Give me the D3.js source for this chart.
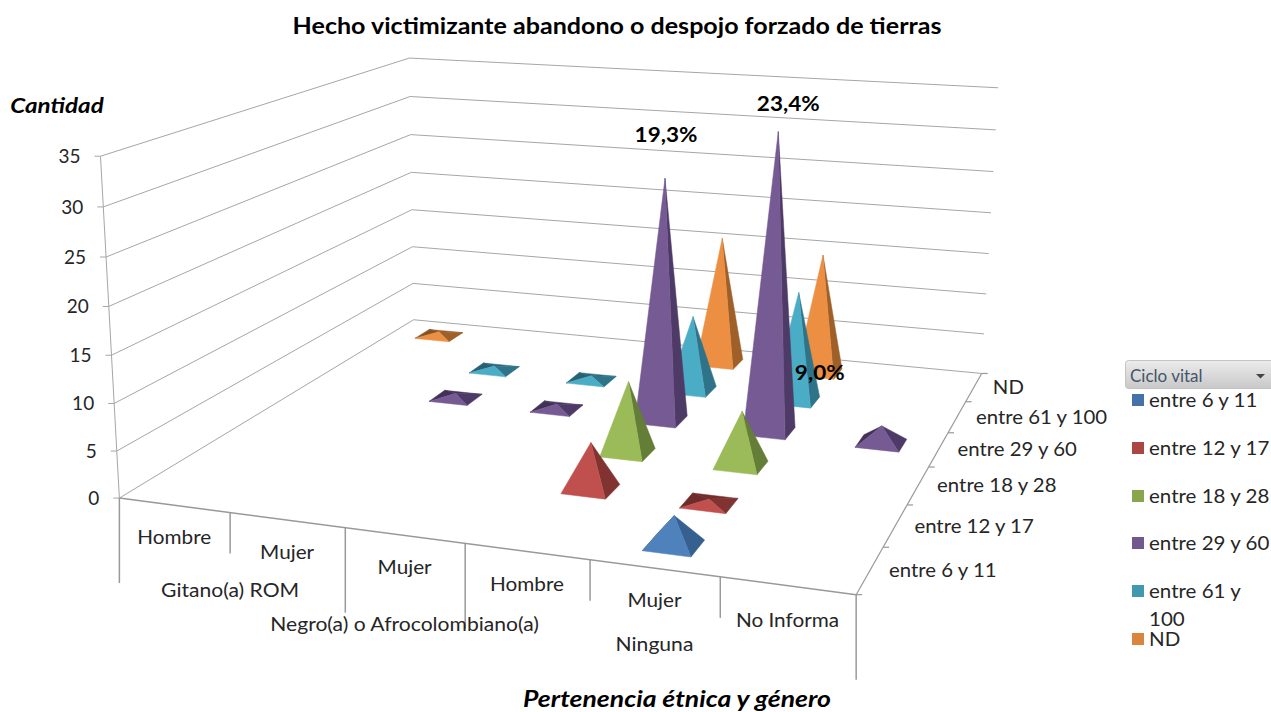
<!DOCTYPE html>
<html><head><meta charset="utf-8">
<script src="https://cdn.jsdelivr.net/npm/d3@7/dist/d3.min.js"></script>
<style>
html,body{margin:0;padding:0;background:#fff}
svg{display:block}
text{font-family:Lato,"Open Sans",sans-serif;fill:#262626}
</style></head><body>
<svg id="c" width="1271" height="712"></svg>
<script>
// ---- data ----
const categories = ["Hombre","Mujer","Mujer ","Hombre ","Mujer  ","No Informa"];
const groups = ["Gitano(a) ROM","Negro(a) o Afrocolombiano(a)","Ninguna"];
const groupSpans = [2,1,3];
const series = ["entre 6 y 11","entre 12 y 17","entre 18 y 28","entre 29 y 60","entre 61 y 100","ND"];
const colors = ["#4F81BD","#C0504D","#9BBB59","#765A94","#4BACC6","#EC8F42"];
const darks  = ["#36608F","#803330","#647D37","#4E3A66","#2E7388","#9E6028"];
const legendColors = ["#4573A7","#AA4643","#89A54E","#71588F","#4198AF","#DB843D"];
const valueTicks = [0,5,10,15,20,25,30,35];
const s6a11   = [0,0,0,0,3,0];
const s12a17  = [0,0,0,5,0.45,0];
const s18a28  = [0,0,0,8,6,0];
const s29a60  = [0,0.55,0.55,27.8,33.7,2];
const s61a100 = [0,0.5,0.5,9,13,0];
const sND     = [0.5,0,0,15.8,14.7,0];
const rows = [s6a11,s12a17,s18a28,s29a60,s61a100,sND];
const dataLabels = [
  {s:3,c:3,text:"19,3%",dx:1,dy:-43},
  {s:3,c:4,text:"23,4%",dx:10,dy:-28},
  {s:4,c:4,text:"9,0%",dx:21,dy:81}
];

// ---- projection fitted to the box corners ----
const calib = [
  [0,0,0,120,498],[1,0,0,856,595],[1,1,0,982,373],[0,1,0,413,320],
  [0,0,1,100,156],[0,1,1,410,58],[1,1,1,998,88]
];
function solve(A,b){
  const n=A[0].length;
  const M=d3.range(n).map(i=>d3.range(n+1).map(j=>{
    let t=0; A.forEach((r,k)=>{t+=r[i]*(j<n?r[j]:b[k]);}); return t;}));
  for(let i=0;i<n;i++){
    let p=i; for(let k=i+1;k<n;k++) if(Math.abs(M[k][i])>Math.abs(M[p][i])) p=k;
    [M[i],M[p]]=[M[p],M[i]];
    for(let k=0;k<n;k++) if(k!==i){const f=M[k][i]/M[i][i]; for(let j=i;j<=n;j++) M[k][j]-=f*M[i][j];}
  }
  return M.map((r,i)=>r[n]/r[i]);
}
const A=[],B=[];
calib.forEach(([u,v,h,x,y])=>{
  A.push([u,v,h,1,0,0,0,0,-x*u,-x*v,-x*h]);B.push(x);
  A.push([0,0,0,0,u,v,h,1,-y*u,-y*v,-y*h]);B.push(y);
});
const m=solve(A,B);
function P(u,v,h){
  const w=m[8]*u+m[9]*v+m[10]*h+1;
  return [(m[0]*u+m[1]*v+m[2]*h+m[3])/w,(m[4]*u+m[5]*v+m[6]*h+m[7])/w];
}
const uScale=d3.scaleBand().domain(d3.range(categories.length)).range([0,1]);
const vScale=d3.scaleBand().domain(d3.range(series.length)).range([0,1]);
const hScale=d3.scaleLinear().domain([0,35]).range([0,1]);

const svg=d3.select("#c");
const grid="#a6a6a6";
const seg=(a,b,c=grid,w=1)=>svg.append("line").attr("x1",a[0]).attr("y1",a[1]).attr("x2",b[0]).attr("y2",b[1]).attr("stroke",c).attr("stroke-width",w);
// the reference's lettering is slightly stretched sideways
function stretch(sel,r){
  const l=sel.node().getComputedTextLength();
  return sel.attr("textLength",l*r).attr("lengthAdjust","spacingAndGlyphs");
}

// title + axis titles
stretch(svg.append("text").attr("x",617).attr("y",34).attr("text-anchor","middle")
  .attr("font-size",22).attr("font-weight",700).style("fill","#000")
  .text("Hecho victimizante abandono o despojo forzado de tierras"),1.139);
stretch(svg.append("text").attr("x",57).attr("y",113).attr("text-anchor","middle")
  .attr("font-size",21).attr("font-weight",700).attr("font-style","italic").style("fill","#000").text("Cantidad"),1.15);
stretch(svg.append("text").attr("x",677).attr("y",707).attr("text-anchor","middle")
  .attr("font-size",23).attr("font-weight",700).attr("font-style","italic").style("fill","#000").text("Pertenencia étnica y género"),1.154);

// walls
valueTicks.forEach(t=>{
  const h=hScale(t);
  const a=P(0,0,h),b=P(0,1,h),c=P(1,1,h);
  seg(a,b);seg(b,c);
  seg([a[0]-6,a[1]],a);
  svg.append("text").attr("x",a[0]-20).attr("y",a[1]+7).attr("text-anchor","end").attr("font-size",19).text(t);
});
seg(P(0,0,0),P(0,0,1));
// floor edges
seg(P(0,0,0),P(1,0,0),"#999",1.5);
seg(P(1,0,0),P(1,1,0),"#999",1.2);

// category separators and labels
let cum=0; const major=new Set([0]);
groupSpans.forEach(n=>{cum+=n;major.add(cum);});
d3.range(categories.length+1).forEach(i=>{
  const u=i/categories.length,p=P(u,0,0);
  seg(p,[p[0],p[1]+(major.has(i)?85:41)],"#999",1.5);
});
categories.forEach((c,i)=>{
  const p=P(uScale(i)+uScale.bandwidth()/2,0,0);
  stretch(svg.append("text").attr("x",p[0]).attr("y",p[1]+(i===5?41:39)).attr("text-anchor","middle").attr("font-size",18.5).text(c.trim()),1.12);
});
const groupDy=[84,96,83];
cum=0;
groups.forEach((g,i)=>{
  const p=P((cum+groupSpans[i]/2)/categories.length,0,0); cum+=groupSpans[i];
  stretch(svg.append("text").attr("x",p[0]).attr("y",p[1]+groupDy[i]).attr("text-anchor","middle").attr("font-size",18.5).text(g),1.14);
});
// series axis ticks and labels
d3.range(series.length+1).forEach(i=>{
  const p=P(1,i/series.length,0); seg(p,[p[0]+6,p[1]],"#999",1.2);
});
series.forEach((s,i)=>{
  const p=P(1,vScale(i)+vScale.bandwidth()/2,0);
  stretch(svg.append("text").attr("x",p[0]+19).attr("y",p[1]+7).attr("font-size",18.5).text(s),1.1);
});

// pyramids, back row first
const baseFrac=0.38;
const cross=(a,b,c)=>(b[0]-a[0])*(c[1]-a[1])-(b[1]-a[1])*(c[0]-a[0]);
const line=d3.line();
function apex(si,ci){
  return P(uScale(ci)+uScale.bandwidth()/2,vScale(si)+vScale.bandwidth()/2,hScale(rows[si][ci]));
}
d3.range(series.length-1,-1,-1).forEach(si=>{
  categories.forEach((_,ci)=>{
    const val=rows[si][ci]; if(!val) return;
    const uc=uScale(ci)+uScale.bandwidth()/2,vc=vScale(si)+vScale.bandwidth()/2;
    const du=uScale.bandwidth()*baseFrac/2,dv=vScale.bandwidth()*baseFrac/2;
    const FL=P(uc-du,vc-dv,0),FR=P(uc+du,vc-dv,0),BR=P(uc+du,vc+dv,0),BL=P(uc-du,vc+dv,0),Ap=apex(si,ci);
    const base=d3.color(colors[si]),dark=d3.color(darks[si]);
    const faces=[
      {pts:[BR,BL,Ap],fill:dark.darker(0.3)},
      {pts:[BL,FL,Ap],fill:dark.darker(0.45)},
      {pts:[FR,BR,Ap],fill:dark},
      {pts:[FL,FR,Ap],fill:base}
    ];
    faces.forEach(f=>{
      if(cross(f.pts[0],f.pts[1],f.pts[2])<0){
        svg.append("path").attr("d",line(f.pts)+"Z").attr("fill",f.fill).attr("stroke",f.fill).attr("stroke-width",0.5);
      }
    });
  });
});

// data labels
dataLabels.forEach(d=>{
  const p=apex(d.s,d.c);
  stretch(svg.append("text").attr("x",p[0]+d.dx).attr("y",p[1]+d.dy+7).attr("text-anchor","middle")
    .attr("font-size",21).attr("font-weight",700).style("fill","#000").text(d.text),1.07);
});

// legend
const defs=svg.append("defs");
const lg=defs.append("linearGradient").attr("id","btn").attr("x1",0).attr("y1",0).attr("x2",0).attr("y2",1);
lg.append("stop").attr("offset",0).attr("stop-color","#ececec");
lg.append("stop").attr("offset",1).attr("stop-color","#c8c8c8");
svg.append("rect").attr("x",1125.5).attr("y",360.5).attr("width",150).attr("height",28).attr("rx",3)
  .attr("fill","url(#btn)").attr("stroke","#c4c4c4");
svg.append("text").attr("x",1130).attr("y",382).attr("font-size",17).style("fill","#44546A").text("Ciclo vital");
svg.append("path").attr("d","M1256 374h9l-4.5 4.5Z").attr("fill","#444");
const legendY=[400,448,496,543,591,639];
series.forEach((s,i)=>{
  const y=legendY[i];
  svg.append("rect").attr("x",1132).attr("y",y-6).attr("width",12).attr("height",12).attr("fill",legendColors[i]);
  const parts=s==="entre 61 y 100"?["entre 61 y","100"]:[s];
  parts.forEach((tx,k)=>{
    stretch(svg.append("text").attr("x",1149).attr("y",y+6.5+k*28).attr("font-size",19).text(tx),1.08);
  });
});
</script>
</body></html>
